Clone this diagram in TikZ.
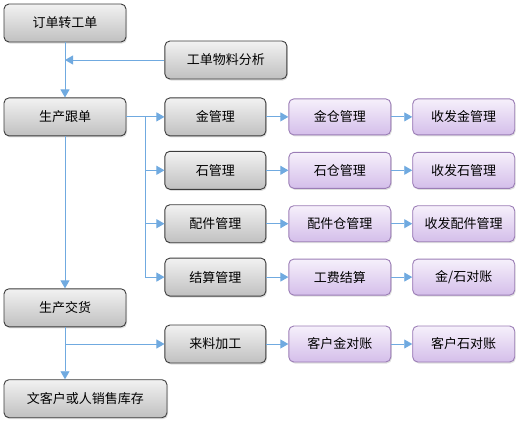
\documentclass[tikz,border=0pt]{standalone}
\usepackage{fontspec}
\setmainfont{Noto Sans CJK SC}
\usetikzlibrary{arrows.meta, positioning, shadows}
\definecolor{flowblue}{RGB}{112,170,224}
\definecolor{grayedge}{RGB}{60,60,60}
\definecolor{graytop}{RGB}{242,242,242}
\definecolor{graybottom}{RGB}{192,192,192}
\definecolor{purpleedge}{RGB}{155,125,182}
\definecolor{purpletop}{RGB}{246,240,251}
\definecolor{purplebottom}{RGB}{212,190,234}
\tikzset{
  graybox/.style={rectangle,draw=grayedge,line width=0.9pt,rounded corners=5pt,align=center,
    top color=graytop,bottom color=graybottom,minimum height=38pt,minimum width=122pt,
    font=\fontsize{13}{15}\selectfont,
    drop shadow={shadow xshift=1pt,shadow yshift=-1.5pt,opacity=0.25}},
  midbox/.style={graybox,minimum width=101pt},
  purplebox/.style={rectangle,draw=purpleedge,line width=0.9pt,rounded corners=5pt,align=center,
    top color=purpletop,bottom color=purplebottom,minimum height=36pt,minimum width=102pt,
    font=\fontsize{13}{15}\selectfont,
    drop shadow={shadow xshift=1pt,shadow yshift=-1.5pt,opacity=0.25}},
  line/.style={draw=flowblue,line width=0.9pt,-{Triangle[length=8pt,width=9pt,fill=flowblue]}}
}

\begin{document}
\begin{tikzpicture}[node distance=14.5pt and 22pt]
\useasboundingbox (0,0) rectangle (523pt,-423pt);
\node[graybox] (order) at (65pt,-23pt) {订单转工单};
\node[graybox, below=55pt of order] (track) {生产跟单};
\node[midbox, right=38pt of track] (gold) {金管理};
\node[graybox, above=18pt of gold.north west, anchor=south west] (analysis) {工单物料分析};
\node[purplebox, right=of gold] (goldwh) {金仓管理};
\node[purplebox, right=21pt of goldwh] (goldrs) {收发金管理};
\node[midbox, below=of gold] (stone) {石管理};
\node[purplebox, right=of stone] (stonewh) {石仓管理};
\node[purplebox, right=21pt of stonewh] (stoners) {收发石管理};
\node[midbox, below=of stone] (parts) {配件管理};
\node[purplebox, right=of parts] (partswh) {配件仓管理};
\node[purplebox, right=21pt of partswh] (partsrs) {收发配件管理};
\node[midbox, below=of parts] (settle) {结算管理};
\node[purplebox, right=of settle] (labor) {工费结算};
\node[purplebox, right=21pt of labor] (check) {金/石对账};
\node[graybox, below=152pt of track] (deliver) {生产交货};
\node[midbox, below=28pt of settle] (incoming) {来料加工};
\node[purplebox, right=of incoming] (custgold) {客户金对账};
\node[purplebox, right=21pt of custgold] (custstone) {客户石对账};
\node[graybox, minimum width=163pt, below=52pt of deliver.south west, anchor=north west] (final) {文客户或人销售库存};
\coordinate (split) at ([xshift=19pt]track.east);
% main column
\draw[line] (order) -- (track);
\draw[line] (analysis.west) -- (order.south |- analysis.west);
\draw[line] (track) -- (deliver);
\draw[line] (deliver.south) -- (deliver.south |- final.north);
% branches from production tracking
\draw[line] (track.east) -- (gold.west);
\draw[line] (split) |- (stone.west);
\draw[line] (split) |- (parts.west);
\draw[line] (split) |- (settle.west);
\draw[line] (deliver.south |- incoming.west) -- (incoming.west);
% rows
\draw[line] (gold) -- (goldwh);
\draw[line] (goldwh) -- (goldrs);
\draw[line] (stone) -- (stonewh);
\draw[line] (stonewh) -- (stoners);
\draw[line] (parts) -- (partswh);
\draw[line] (partswh) -- (partsrs);
\draw[line] (settle) -- (labor);
\draw[line] (labor) -- (check);
\draw[line] (incoming) -- (custgold);
\draw[line] (custgold) -- (custstone);
\end{tikzpicture}
\end{document}
